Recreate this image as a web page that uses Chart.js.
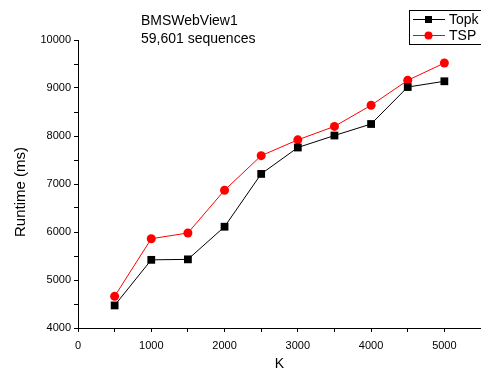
<!DOCTYPE html>
<html>
<head>
<meta charset="utf-8">
<script src="https://cdn.jsdelivr.net/npm/chart.js@4.4.0/dist/chart.umd.min.js"></script>
<style>
  html, body { margin: 0; padding: 0; background: #fff; }
  #wrap { width: 481px; height: 371px; }
</style>
</head>
<body>
<div id="wrap"><canvas id="chart" width="481" height="371"></canvas></div>
<script>
// data
const kValues = [500, 1000, 1500, 2000, 2500, 3000, 3500, 4000, 4500, 5000];
const topk = [4470, 5420, 5430, 6110, 7210, 7760, 8010, 8250, 9020, 9140];
const tsp = [4660, 5860, 5980, 6870, 7590, 7920, 8200, 8640, 9160, 9520];

const font = 'Arial, "Liberation Sans", sans-serif';

function toPoints(ys) {
    return kValues.map((k, i) => ({ x: k, y: ys[i] }));
}

// title text, y axis title, legend box
const annotations = {
    id: 'annotations',
    afterDatasetsDraw(chart) {
        const ctx = chart.ctx;
        ctx.save();
        ctx.fillStyle = '#000';
        ctx.font = '14px ' + font;
        ctx.textBaseline = 'alphabetic';
        ctx.textAlign = 'left';
        ctx.fillText('BMSWebView1', 141, 25);
        ctx.fillText('59,601 sequences', 141, 43);

        // y axis title (Origin puts it a bit below the axis middle)
        ctx.save();
        ctx.translate(25, 192);
        ctx.rotate(-Math.PI / 2);
        ctx.textAlign = 'center';
        ctx.font = '15px ' + font;
        ctx.fillText('Runtime (ms)', 0, 0);
        ctx.restore();

        // legend
        ctx.strokeStyle = '#000';
        ctx.lineWidth = 1;
        ctx.strokeRect(409.5, 10.5, 90, 34);
        const rows = [
            { label: 'Topk', color: '#000', y: 19, square: true },
            { label: 'TSP', color: '#ff0000', y: 35, square: false }
        ];
        rows.forEach(r => {
            ctx.strokeStyle = r.color;
            ctx.beginPath();
            ctx.moveTo(413, r.y + 0.5);
            ctx.lineTo(445, r.y + 0.5);
            ctx.stroke();
            ctx.fillStyle = r.color;
            if (r.square) {
                ctx.fillRect(425, r.y - 3, 7, 7);
            } else {
                ctx.beginPath();
                ctx.arc(428.5, r.y + 0.5, 4, 0, Math.PI * 2);
                ctx.fill();
            }
            ctx.fillStyle = '#000';
            ctx.font = '14px ' + font;
            ctx.fillText(r.label, 449, r.y + 5);
        });
        ctx.restore();
    }
};

new Chart(document.getElementById('chart'), {
    type: 'line',
    data: {
        datasets: [{
            label: 'Topk',
            data: toPoints(topk),
            borderColor: '#000',
            backgroundColor: '#000',
            borderWidth: 1,
            pointStyle: 'rect',
            pointRadius: 5.5,
            pointBorderWidth: 0,
            tension: 0
        }, {
            label: 'TSP',
            data: toPoints(tsp),
            borderColor: '#ff0000',
            backgroundColor: '#ff0000',
            borderWidth: 1,
            pointStyle: 'circle',
            pointRadius: 4.5,
            pointBorderWidth: 0,
            tension: 0
        }]
    },
    options: {
        responsive: false,
        maintainAspectRatio: false,
        animation: false,
        layout: { autoPadding: false, padding: { left: 0, right: 0, top: 40, bottom: 0 } },
        plugins: {
            legend: { display: false },
            tooltip: { enabled: false }
        },
        scales: {
            x: {
                type: 'linear',
                min: 0,
                max: 5500,
                afterFit: scale => {
                    scale.height = 43;
                    scale.paddingRight = 0;
                    scale.paddingLeft = 0;
                },
                ticks: {
                    stepSize: 500,
                    color: '#000',
                    font: { family: font, size: 11 },
                    padding: 7,
                    maxRotation: 0,
                    callback: v => (v % 1000 === 0 && v <= 5000) ? String(v) : ''
                },
                grid: {
                    drawOnChartArea: false,
                    drawTicks: true,
                    tickLength: 4,
                    tickColor: '#000'
                },
                border: { color: '#000', width: 1 },
                title: {
                    display: true,
                    text: 'K',
                    color: '#000',
                    font: { family: font, size: 14, lineHeight: 1 },
                    padding: { top: 4, bottom: 0 }
                }
            },
            y: {
                min: 4000,
                max: 10000,
                afterFit: scale => { scale.width = 78; },
                ticks: {
                    stepSize: 500,
                    color: '#000',
                    font: { family: font, size: 11 },
                    padding: 3,
                    callback: v => v % 1000 === 0 ? String(v) : ''
                },
                grid: {
                    drawOnChartArea: false,
                    drawTicks: true,
                    tickLength: 4,
                    tickColor: '#000'
                },
                border: { color: '#000', width: 1 },
                title: { display: false }
            }
        }
    },
    plugins: [annotations]
});
</script>
</body>
</html>
